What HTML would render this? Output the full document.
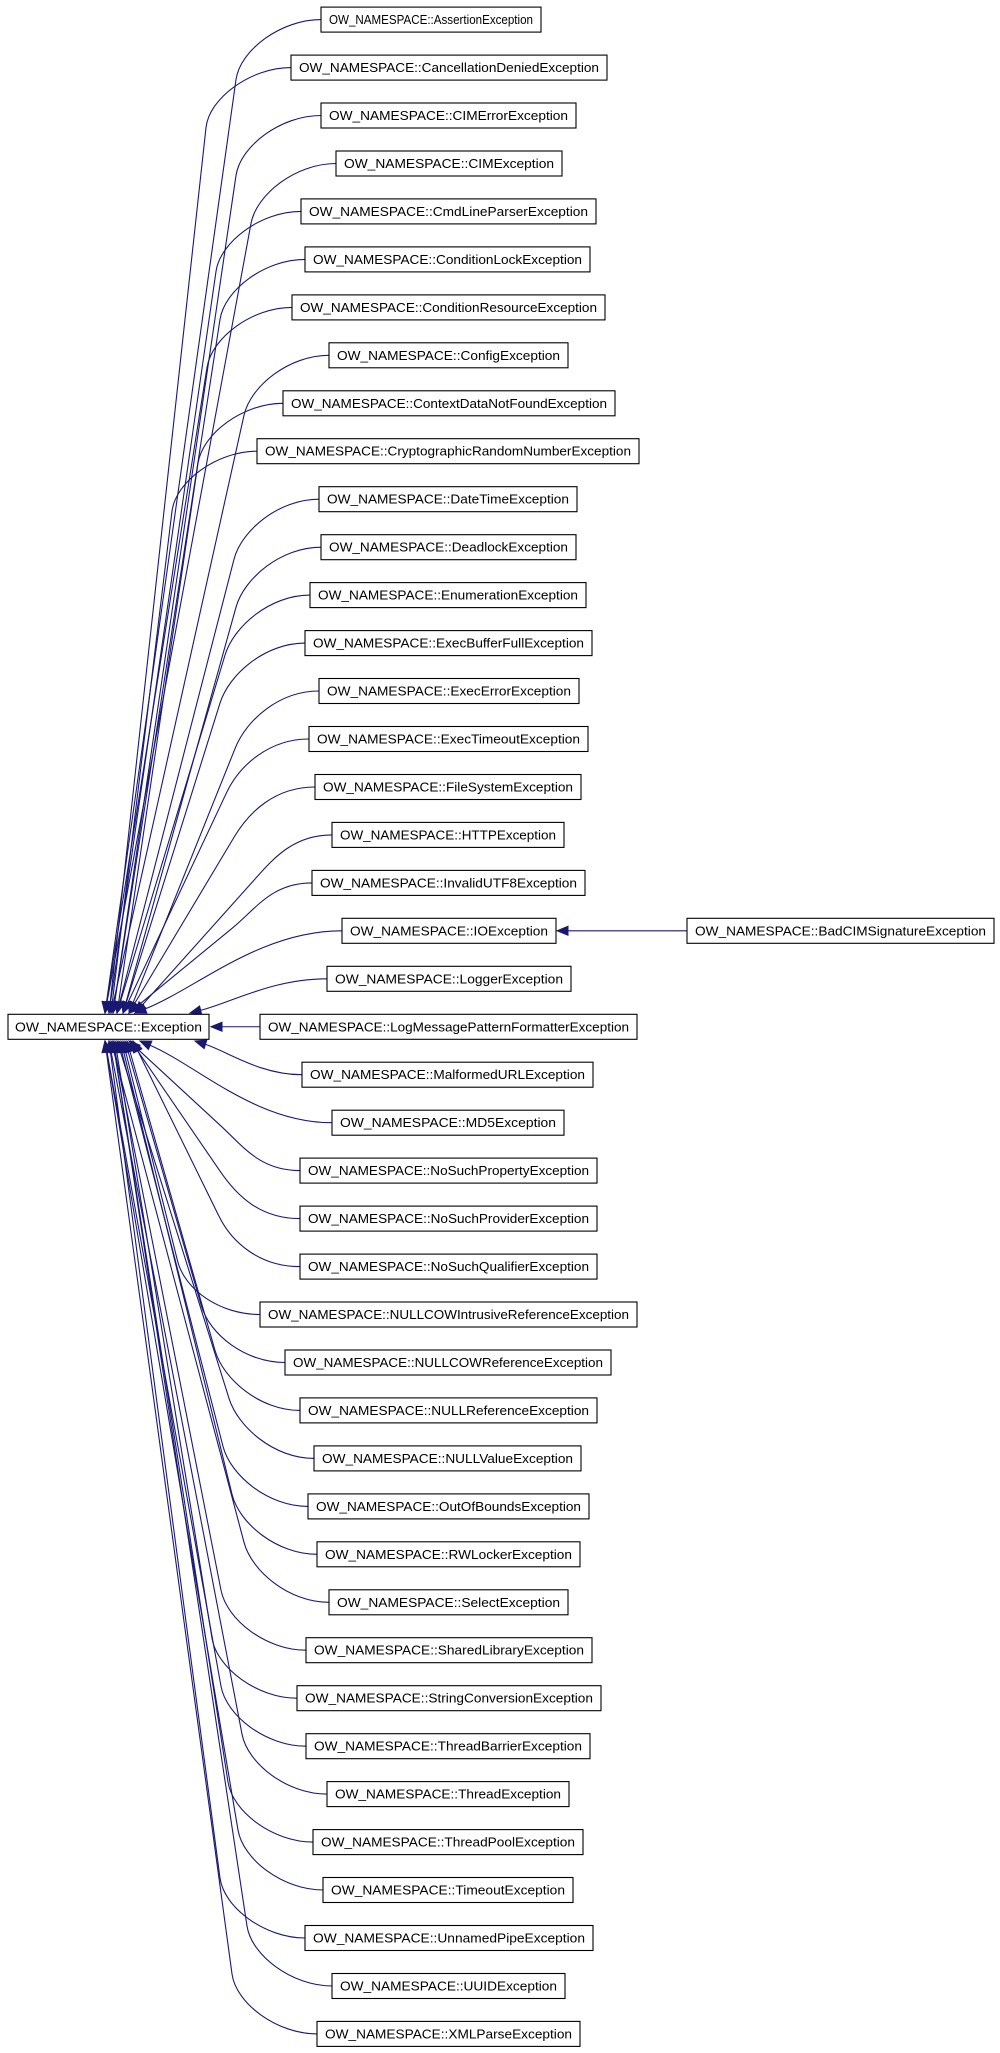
<!DOCTYPE html>
<html><head><meta charset="utf-8"><style>
html,body{margin:0;padding:0;background:#fff;}
svg{display:block}
text{font-family:"Liberation Sans",sans-serif;font-size:12.5px;fill:#000}
rect{fill:#fff;stroke:#000;stroke-width:1.1}
</style></head><body>
<svg id="s" width="1000" height="2053" viewBox="0 0 1000 2053" xmlns="http://www.w3.org/2000/svg">
<g id="edges"></g>
<g id="boxes">
<g transform="translate(0,1026.8)"><rect x="8" y="-12.5" width="201" height="25"/><text x="15" y="4.5" textLength="187" lengthAdjust="spacingAndGlyphs">OW_NAMESPACE::Exception</text></g>
<g transform="translate(0,930.8)"><rect x="687" y="-12.5" width="307" height="25"/><text x="695" y="4.5" textLength="291" lengthAdjust="spacingAndGlyphs">OW_NAMESPACE::BadCIMSignatureException</text></g>
<g transform="translate(0,19.6)"><rect x="321" y="-12.5" width="220" height="25"/><text x="329" y="4.5" font-family="Liberation Sans, sans-serif" font-size="13" textLength="204" lengthAdjust="spacingAndGlyphs">OW_NAMESPACE::AssertionException</text></g>
<g transform="translate(0,67.6)"><rect x="291" y="-12.5" width="316" height="25"/><text x="299" y="4.5" textLength="300" lengthAdjust="spacingAndGlyphs">OW_NAMESPACE::CancellationDeniedException</text></g>
<g transform="translate(0,115.5)"><rect x="321" y="-12.5" width="255" height="25"/><text x="329" y="4.5" textLength="239" lengthAdjust="spacingAndGlyphs">OW_NAMESPACE::CIMErrorException</text></g>
<g transform="translate(0,163.5)"><rect x="336" y="-12.5" width="226" height="25"/><text x="344" y="4.5" textLength="210" lengthAdjust="spacingAndGlyphs">OW_NAMESPACE::CIMException</text></g>
<g transform="translate(0,211.4)"><rect x="301" y="-12.5" width="295" height="25"/><text x="309" y="4.5" textLength="279" lengthAdjust="spacingAndGlyphs">OW_NAMESPACE::CmdLineParserException</text></g>
<g transform="translate(0,259.4)"><rect x="305" y="-12.5" width="285" height="25"/><text x="313" y="4.5" textLength="269" lengthAdjust="spacingAndGlyphs">OW_NAMESPACE::ConditionLockException</text></g>
<g transform="translate(0,307.4)"><rect x="292" y="-12.5" width="313" height="25"/><text x="300" y="4.5" textLength="297" lengthAdjust="spacingAndGlyphs">OW_NAMESPACE::ConditionResourceException</text></g>
<g transform="translate(0,355.3)"><rect x="329" y="-12.5" width="239" height="25"/><text x="337" y="4.5" textLength="223" lengthAdjust="spacingAndGlyphs">OW_NAMESPACE::ConfigException</text></g>
<g transform="translate(0,403.3)"><rect x="283" y="-12.5" width="332" height="25"/><text x="291" y="4.5" textLength="316" lengthAdjust="spacingAndGlyphs">OW_NAMESPACE::ContextDataNotFoundException</text></g>
<g transform="translate(0,451.2)"><rect x="257" y="-12.5" width="382" height="25"/><text x="265" y="4.5" textLength="366" lengthAdjust="spacingAndGlyphs">OW_NAMESPACE::CryptographicRandomNumberException</text></g>
<g transform="translate(0,499.2)"><rect x="319" y="-12.5" width="258" height="25"/><text x="327" y="4.5" textLength="242" lengthAdjust="spacingAndGlyphs">OW_NAMESPACE::DateTimeException</text></g>
<g transform="translate(0,547.2)"><rect x="321" y="-12.5" width="255" height="25"/><text x="329" y="4.5" textLength="239" lengthAdjust="spacingAndGlyphs">OW_NAMESPACE::DeadlockException</text></g>
<g transform="translate(0,595.1)"><rect x="310" y="-12.5" width="276" height="25"/><text x="318" y="4.5" textLength="260" lengthAdjust="spacingAndGlyphs">OW_NAMESPACE::EnumerationException</text></g>
<g transform="translate(0,643.1)"><rect x="305" y="-12.5" width="287" height="25"/><text x="313" y="4.5" textLength="271" lengthAdjust="spacingAndGlyphs">OW_NAMESPACE::ExecBufferFullException</text></g>
<g transform="translate(0,691.0)"><rect x="319" y="-12.5" width="260" height="25"/><text x="327" y="4.5" textLength="244" lengthAdjust="spacingAndGlyphs">OW_NAMESPACE::ExecErrorException</text></g>
<g transform="translate(0,739.0)"><rect x="309" y="-12.5" width="279" height="25"/><text x="317" y="4.5" textLength="263" lengthAdjust="spacingAndGlyphs">OW_NAMESPACE::ExecTimeoutException</text></g>
<g transform="translate(0,787.0)"><rect x="315" y="-12.5" width="266" height="25"/><text x="323" y="4.5" textLength="250" lengthAdjust="spacingAndGlyphs">OW_NAMESPACE::FileSystemException</text></g>
<g transform="translate(0,834.9)"><rect x="332" y="-12.5" width="232" height="25"/><text x="340" y="4.5" textLength="216" lengthAdjust="spacingAndGlyphs">OW_NAMESPACE::HTTPException</text></g>
<g transform="translate(0,882.9)"><rect x="312" y="-12.5" width="273" height="25"/><text x="320" y="4.5" textLength="257" lengthAdjust="spacingAndGlyphs">OW_NAMESPACE::InvalidUTF8Exception</text></g>
<g transform="translate(0,930.8)"><rect x="342" y="-12.5" width="214" height="25"/><text x="350" y="4.5" textLength="198" lengthAdjust="spacingAndGlyphs">OW_NAMESPACE::IOException</text></g>
<g transform="translate(0,978.8)"><rect x="327" y="-12.5" width="244" height="25"/><text x="335" y="4.5" textLength="228" lengthAdjust="spacingAndGlyphs">OW_NAMESPACE::LoggerException</text></g>
<g transform="translate(0,1026.8)"><rect x="260" y="-12.5" width="377" height="25"/><text x="268" y="4.5" textLength="361" lengthAdjust="spacingAndGlyphs">OW_NAMESPACE::LogMessagePatternFormatterException</text></g>
<g transform="translate(0,1074.7)"><rect x="302" y="-12.5" width="291" height="25"/><text x="310" y="4.5" textLength="275" lengthAdjust="spacingAndGlyphs">OW_NAMESPACE::MalformedURLException</text></g>
<g transform="translate(0,1122.7)"><rect x="332" y="-12.5" width="232" height="25"/><text x="340" y="4.5" textLength="216" lengthAdjust="spacingAndGlyphs">OW_NAMESPACE::MD5Exception</text></g>
<g transform="translate(0,1170.6)"><rect x="300" y="-12.5" width="297" height="25"/><text x="308" y="4.5" textLength="281" lengthAdjust="spacingAndGlyphs">OW_NAMESPACE::NoSuchPropertyException</text></g>
<g transform="translate(0,1218.6)"><rect x="300" y="-12.5" width="297" height="25"/><text x="308" y="4.5" textLength="281" lengthAdjust="spacingAndGlyphs">OW_NAMESPACE::NoSuchProviderException</text></g>
<g transform="translate(0,1266.6)"><rect x="300" y="-12.5" width="297" height="25"/><text x="308" y="4.5" textLength="281" lengthAdjust="spacingAndGlyphs">OW_NAMESPACE::NoSuchQualifierException</text></g>
<g transform="translate(0,1314.5)"><rect x="260" y="-12.5" width="377" height="25"/><text x="268" y="4.5" textLength="361" lengthAdjust="spacingAndGlyphs">OW_NAMESPACE::NULLCOWIntrusiveReferenceException</text></g>
<g transform="translate(0,1362.5)"><rect x="285" y="-12.5" width="326" height="25"/><text x="293" y="4.5" textLength="310" lengthAdjust="spacingAndGlyphs">OW_NAMESPACE::NULLCOWReferenceException</text></g>
<g transform="translate(0,1410.4)"><rect x="300" y="-12.5" width="297" height="25"/><text x="308" y="4.5" textLength="281" lengthAdjust="spacingAndGlyphs">OW_NAMESPACE::NULLReferenceException</text></g>
<g transform="translate(0,1458.4)"><rect x="314" y="-12.5" width="267" height="25"/><text x="322" y="4.5" textLength="251" lengthAdjust="spacingAndGlyphs">OW_NAMESPACE::NULLValueException</text></g>
<g transform="translate(0,1506.4)"><rect x="308" y="-12.5" width="281" height="25"/><text x="316" y="4.5" textLength="265" lengthAdjust="spacingAndGlyphs">OW_NAMESPACE::OutOfBoundsException</text></g>
<g transform="translate(0,1554.3)"><rect x="317" y="-12.5" width="263" height="25"/><text x="325" y="4.5" textLength="247" lengthAdjust="spacingAndGlyphs">OW_NAMESPACE::RWLockerException</text></g>
<g transform="translate(0,1602.3)"><rect x="329" y="-12.5" width="239" height="25"/><text x="337" y="4.5" textLength="223" lengthAdjust="spacingAndGlyphs">OW_NAMESPACE::SelectException</text></g>
<g transform="translate(0,1650.2)"><rect x="306" y="-12.5" width="286" height="25"/><text x="314" y="4.5" textLength="270" lengthAdjust="spacingAndGlyphs">OW_NAMESPACE::SharedLibraryException</text></g>
<g transform="translate(0,1698.2)"><rect x="297" y="-12.5" width="304" height="25"/><text x="305" y="4.5" textLength="288" lengthAdjust="spacingAndGlyphs">OW_NAMESPACE::StringConversionException</text></g>
<g transform="translate(0,1746.2)"><rect x="306" y="-12.5" width="284" height="25"/><text x="314" y="4.5" textLength="268" lengthAdjust="spacingAndGlyphs">OW_NAMESPACE::ThreadBarrierException</text></g>
<g transform="translate(0,1794.1)"><rect x="327" y="-12.5" width="242" height="25"/><text x="335" y="4.5" textLength="226" lengthAdjust="spacingAndGlyphs">OW_NAMESPACE::ThreadException</text></g>
<g transform="translate(0,1842.1)"><rect x="313" y="-12.5" width="270" height="25"/><text x="321" y="4.5" textLength="254" lengthAdjust="spacingAndGlyphs">OW_NAMESPACE::ThreadPoolException</text></g>
<g transform="translate(0,1890.0)"><rect x="323" y="-12.5" width="250" height="25"/><text x="331" y="4.5" textLength="234" lengthAdjust="spacingAndGlyphs">OW_NAMESPACE::TimeoutException</text></g>
<g transform="translate(0,1938.0)"><rect x="305" y="-12.5" width="288" height="25"/><text x="313" y="4.5" textLength="272" lengthAdjust="spacingAndGlyphs">OW_NAMESPACE::UnnamedPipeException</text></g>
<g transform="translate(0,1986.0)"><rect x="332" y="-12.5" width="233" height="25"/><text x="340" y="4.5" textLength="217" lengthAdjust="spacingAndGlyphs">OW_NAMESPACE::UUIDException</text></g>
<g transform="translate(0,2033.9)"><rect x="317" y="-12.5" width="263" height="25"/><text x="325" y="4.5" textLength="247" lengthAdjust="spacingAndGlyphs">OW_NAMESPACE::XMLParseException</text></g>
</g>
</svg>
<script>
(function(){
var L=[321,291,321,336,301,305,292,329,283,257,319,321,310,305,319,309,315,332,312,342,327,260,302,332,300,300,300,260,285,300,314,308,317,329,306,297,306,327,313,323,305,332,317];
var g=document.getElementById('edges'),C='#191970',out='';
function arrow(ex,ey,dx,dy){var l=Math.sqrt(dx*dx+dy*dy);dx/=l;dy/=l;var bx=ex-dx*11,by=ey-dy*11,px=-dy*4.5,py=dx*4.5;
return '<polygon points="'+ex+','+ey+' '+(bx+px)+','+(by+py)+' '+(bx-px)+','+(by-py)+'" fill="'+C+'" stroke="'+C+'"/>';}
function P(a,b){return a.toFixed(1)+','+b.toFixed(1);}
for(var i=0;i<43;i++){
 var y=19.6+47.96*i,x=L[i],d=i-21,ad=Math.abs(d),s=d<0?1:-1,ex,ey;
 if(d===0){ out+='<path d="M'+x+','+y+' L211,'+y+'" fill="none" stroke="'+C+'" stroke-width="1.1"/>'+arrow(211,y,-1,0); continue;}
 if(ad===1){ex=d<0?190:195;}else if(ad===2){ex=d<0?135:140;}else{ex=105+Math.max(0,30-ad*2)+(i%3)*4;}
 ey=d<0?1013:1041;
 var path,dx,dy;
 if(ad<=2){
  var p1x=x-(x-ex)*0.4,p1y=y,p2x=ex+(x-ex)*0.3,p2y=ey+(y-ey)*0.3;
  dx=ex-p2x;dy=ey-p2y;var l=Math.sqrt(dx*dx+dy*dy),sx=ex-dx/l*10,sy=ey-dy/l*10;
  path='M'+P(x,y)+' C'+P(p1x,p1y)+' '+P(p2x,p2y)+' '+P(sx,sy);
 } else {
  var k=Math.min(1,ad/8);
  var bx=x-75-10*k, by=y+s*(35+25*k);
  dx=ex-bx;dy=ey-by;var l2=Math.sqrt(dx*dx+dy*dy),ux=dx/l2,uy=dy/l2;
  var sx2=ex-ux*10,sy2=ey-uy*10;
  path='M'+P(x,y)+' C'+P(x-40,y)+' '+P(bx-ux*30,by-uy*30)+' '+P(bx,by)+' L'+P(sx2,sy2);
 }
 out+='<path d="'+path+'" fill="none" stroke="'+C+'" stroke-width="1.1"/>'+arrow(ex,ey,dx,dy);
}
out+='<path d="M687,930.8 L568,930.8" fill="none" stroke="'+C+'" stroke-width="1.1"/>'+arrow(557,930.8,-1,0);
g.innerHTML=out;
})();
</script>
</body></html>
